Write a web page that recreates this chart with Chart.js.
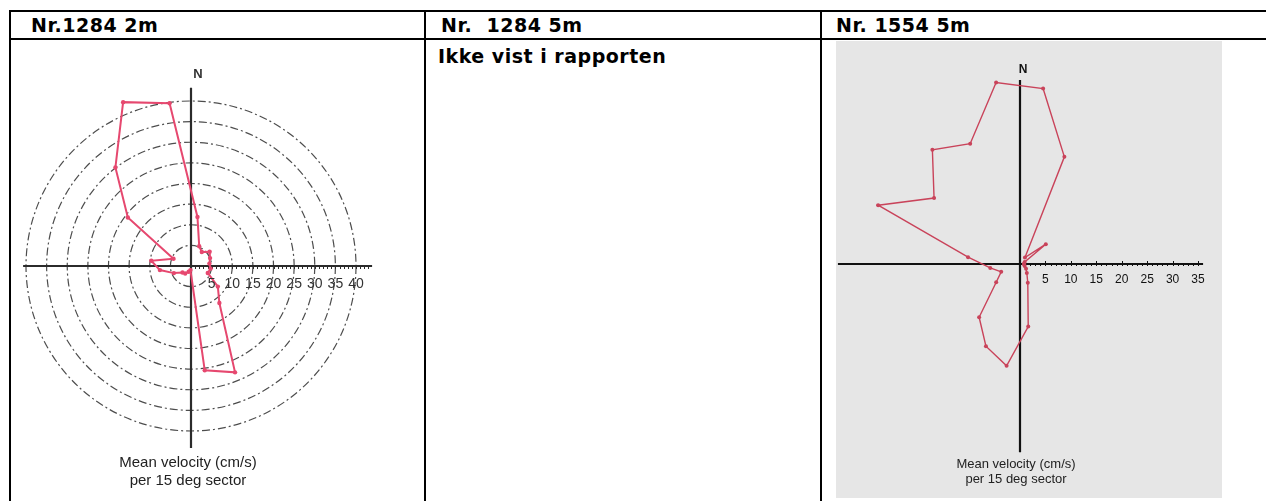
<!DOCTYPE html>
<html>
<head>
<meta charset="utf-8">
<script src="https://cdn.jsdelivr.net/npm/chart.js@4.4.1/dist/chart.umd.min.js"></script>
<style>
  body { margin:0; width:1266px; height:501px; overflow:hidden; position:relative; background:#fff; font-family:"DejaVu Sans", Verdana, sans-serif; }
  .rule { position:absolute; background:#000; }
  .hdr { position:absolute; font-weight:bold; font-size:19px; line-height:22px; letter-spacing:0.5px; white-space:pre; color:#000; }
  .cap { position:absolute; width:200px; text-align:center; white-space:nowrap; font-family:"Liberation Sans", Arial, sans-serif; color:#222; }
  .plot { position:absolute; }
</style>
</head>
<body>
<div class="plot" style="left:836px;top:41px;width:386px;height:457px;background:#e6e6e6"></div>
<canvas id="rose1284" class="plot" width="413" height="460" style="left:11px;top:41px"></canvas>
<canvas id="rose1554" class="plot" width="386" height="457" style="left:836px;top:41px"></canvas>

<div class="rule" style="left:9px;top:10px;width:1257px;height:2px"></div>
<div class="rule" style="left:9px;top:38px;width:1257px;height:2px"></div>
<div class="rule" style="left:9px;top:10px;width:2px;height:491px"></div>
<div class="rule" style="left:424px;top:10px;width:2px;height:491px"></div>
<div class="rule" style="left:820px;top:10px;width:2px;height:491px"></div>

<div class="hdr" style="left:31px;top:14px">Nr.1284 2m</div>
<div class="hdr" style="left:441px;top:14px">Nr.  1284 5m</div>
<div class="hdr" style="left:836px;top:14px">Nr. 1554 5m</div>
<div class="hdr" style="left:438px;top:45px">Ikke vist i rapporten</div>

<div class="cap" style="left:88px;top:453px;font-size:15px;line-height:18px">Mean velocity (cm/s)<br>per 15 deg sector</div>
<div class="cap" style="left:916px;top:456px;font-size:13px;line-height:15px">Mean velocity (cm/s)<br>per 15 deg sector</div>

<script>
// sector mid angles (deg from north, clockwise), 15 deg sectors
const sectors = [7.5, 22.5, 37.5, 52.5, 67.5, 82.5, 97.5, 112.5, 127.5, 142.5, 157.5, 172.5,
                 187.5, 202.5, 217.5, 232.5, 247.5, 262.5, 277.5, 292.5, 307.5, 322.5, 337.5, 352.5];

// mean velocity per sector, cm/s
const vel1284_2m = [12, 5.2, 4.3, 5.7, 5.0, 4.5, 4.8, 4.4, 8.2, 11.3, 27.9, 25.5,
                    1.0, 1.5, 2.3, 2.6, 4.5, 7.6, 9.7, 4.6, 19.3, 30.1, 43, 39.8];
const vel1554_5m = [34.8, 22.8, 1.6, 6.4, 1.0, 0.8, 0.8, 1.0, 1.5, 2.2, 4.0, 12.4,
                    20.2, 17.5, 13.2, 5.9, 4.0, 5.9, 10.3, 30.2, 21.3, 28.3, 25.6, 36];

const ticks1284 = [5, 10, 15, 20, 25, 30, 35, 40];
const ticks1554 = [5, 10, 15, 20, 25, 30, 35];

// N-S / E-W cross, ruler ticks and labels on the east axis
const crossAxes = {
  id: 'crossAxes',
  beforeDatasetsDraw(chart, args, o) {
    const r = chart.scales.r, ctx = chart.ctx;
    const cx = r.xCenter, cy = r.yCenter;
    const d = v => r.getDistanceFromCenterForValue(v);
    ctx.save();
    ctx.strokeStyle = o.color;
    ctx.lineWidth = o.width;
    ctx.beginPath();
    ctx.moveTo(cx - d(o.west), cy);
    ctx.lineTo(cx + d(o.east), cy);
    ctx.moveTo(cx, cy - d(o.north));
    ctx.lineTo(cx, cy + d(o.south));
    ctx.stroke();

    ctx.lineWidth = 1;
    ctx.beginPath();
    for (let v = 1; v <= o.minorTo; v++) {
      const x = Math.round(cx + d(v)) + 0.5;
      ctx.moveTo(x, cy);
      ctx.lineTo(x, cy + o.minorLen);
    }
    o.labels.forEach(v => {
      const x = Math.round(cx + d(v)) + 0.5;
      ctx.moveTo(x, cy);
      ctx.lineTo(x, cy - o.majorLen);
    });
    ctx.stroke();
    ctx.restore();
  },
  afterDraw(chart, args, o) {
    const r = chart.scales.r, ctx = chart.ctx;
    const cx = r.xCenter, cy = r.yCenter;
    const d = v => r.getDistanceFromCenterForValue(v);
    ctx.save();
    ctx.fillStyle = o.textColor;
    ctx.font = o.font;
    ctx.textAlign = 'center';
    ctx.textBaseline = 'middle';
    o.labels.forEach(v => ctx.fillText(String(v), cx + d(v), cy + o.labelOffset));
    ctx.font = o.nFont;
    ctx.fillText('N', cx + o.nDx, cy - d(o.north) - o.nGap);
    ctx.restore();
  }
};

function roseConfig(data, color, lineW, ptR, scaleOpts, axesOpts, padding) {
  return {
    type: 'radar',
    data: {
      labels: sectors.map(s => s + '°'),
      datasets: [{
        data: data,
        borderColor: color,
        borderWidth: lineW,
        pointRadius: ptR,
        pointBackgroundColor: color,
        pointBorderWidth: 0,
        fill: false,
        clip: false
      }]
    },
    options: {
      responsive: false,
      animation: false,
      layout: { padding: padding },
      scales: { r: scaleOpts },
      plugins: {
        legend: { display: false },
        tooltip: { enabled: false },
        crossAxes: axesOpts
      }
    },
    plugins: [crossAxes]
  };
}

new Chart(document.getElementById('rose1284'), roseConfig(
  vel1284_2m, '#e6486f', 2, 2.2,
  {
    min: 0, max: 40, startAngle: 7.5,
    ticks: { display: false, stepSize: 5 },
    grid: { circular: true, color: '#4d4d4d', lineWidth: 1.2 },
    border: { dash: [8, 3, 2, 3] },
    angleLines: { display: false },
    pointLabels: { display: false }
  },
  {
    west: 40.7, east: 43.9, north: 43.2, south: 44.1,
    color: '#2b2b2b', width: 2.2,
    minorTo: 43, minorLen: 3, majorLen: 0,
    labels: ticks1284, labelOffset: 18,
    font: '14px "Liberation Sans", Arial, sans-serif', textColor: '#333',
    nFont: 'bold 13px "Liberation Sans", Arial, sans-serif', nDx: 7, nGap: 13
  },
  { left: 15, top: 60, right: 68, bottom: 70 }
));

new Chart(document.getElementById('rose1554'), roseConfig(
  vel1554_5m, '#c9435a', 1.4, 2,
  {
    min: 0, max: 35, startAngle: 7.5,
    ticks: { display: false, stepSize: 5 },
    grid: { display: false },
    angleLines: { display: false },
    pointLabels: { display: false }
  },
  {
    west: 35.8, east: 36, north: 36.2, south: 37,
    color: '#111', width: 2.2,
    minorTo: 35, minorLen: 2, majorLen: 3,
    labels: ticks1554, labelOffset: 16,
    font: '12px "Liberation Sans", Arial, sans-serif', textColor: '#111',
    nFont: 'bold 12px "Liberation Sans", Arial, sans-serif', nDx: 3, nGap: 10
  },
  { left: 6, top: 45, right: 24, bottom: 56 }
));
</script>
</body>
</html>
